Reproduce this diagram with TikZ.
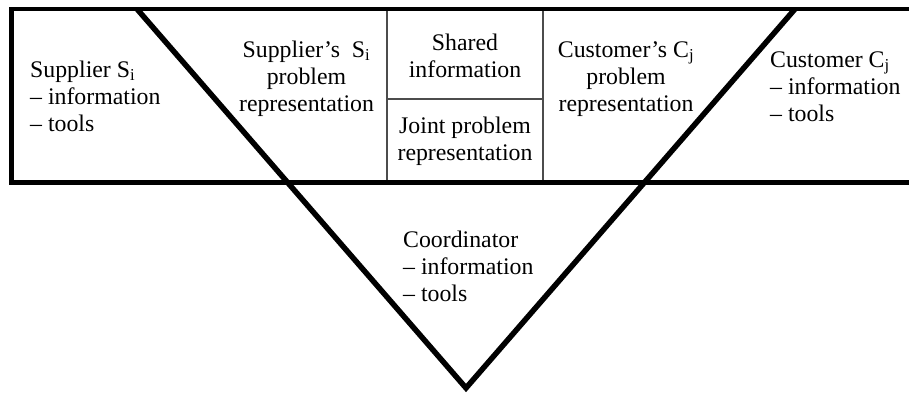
\documentclass[tikz,border=0pt]{standalone}
\usepackage{fontspec}
\setmainfont{Liberation Serif}
\begin{document}
\begin{tikzpicture}[x=1pt,y=-1pt,
  heavy/.style={line width=4.6pt, line join=miter},
  vee/.style={line width=5.5pt, line join=miter},
  divider/.style={line width=1.4pt, draw=black!70},
  txt/.style={inner sep=0pt, font=\fontsize{23.8}{27}\selectfont},
  leftlabel/.style={txt, anchor=north west, align=left},
  midlabel/.style={txt, anchor=north, align=center}]
\useasboundingbox (0,0) rectangle (909,395);

% corners of the open band and the coordinator wedge
\coordinate (bandTR) at (909,9);
\coordinate (bandTL) at (11.5,9);
\coordinate (bandBL) at (11.5,182.5);
\coordinate (bandBR) at (909,182.5);
\coordinate (wedgeL) at (137,9);
\coordinate (wedgeR) at (795,9);
\coordinate (apex) at (466,388);

% thin cell dividers of the shared column
\coordinate (divLt) at (387,9);
\coordinate (divLb) at (387,182.5);
\coordinate (divRt) at (543,9);
\coordinate (divRb) at (543,182.5);
\coordinate (midL) at (387,99);
\coordinate (midR) at (543,99);
\draw[divider] (divLt) -- (divLb);
\draw[divider] (divRt) -- (divRb);
\draw[divider] (midL) -- (midR);

% band open to the right
\draw[heavy] (bandTR) -- (bandTL) -- (bandBL) -- (bandBR);

% coordinator wedge
\draw[vee] (wedgeL) -- (apex) -- (wedgeR);

% texts
\node[leftlabel] (supplier) at (30,58.1)
  {\strut Supplier S\textsubscript{i}\\– information\\– tools};
\node[midlabel] (supplierRep) at (306.5,38.1)
  {\strut Supplier’s\ \ S\textsubscript{i}\\problem\\representation};
\node[midlabel] (shared) at (465,31.1)
  {\strut Shared\\information};
\node[midlabel] (joint) at (465,114.1)
  {\strut Joint problem\\representation};
\node[midlabel] (customerRep) at (626,38.1)
  {\strut Customer’s C\textsubscript{j}\\problem\\representation};
\node[leftlabel] (customer) at (770,48.1)
  {\strut Customer C\textsubscript{j}\\– information\\– tools};
\node[leftlabel] (coordinator) at (403,228.1)
  {\strut Coordinator\\– information\\– tools};
\end{tikzpicture}
\end{document}
